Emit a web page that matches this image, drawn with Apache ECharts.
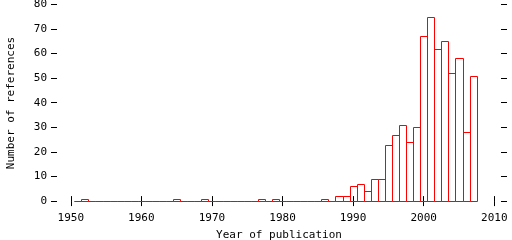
<!DOCTYPE html>
<html>
<head>
<meta charset="utf-8">
<script src="https://cdn.jsdelivr.net/npm/echarts@6/dist/echarts.min.js"></script>
<style>
html,body{margin:0;padding:0;background:#fff;}
#chart{width:512px;height:240px;}
</style>
</head>
<body>
<div id="chart"></div>
<script>
const years = [1951,1952,1953,1954,1955,1956,1957,1958,1959,1960,
  1961,1962,1963,1964,1965,1966,1967,1968,1969,1970,
  1971,1972,1973,1974,1975,1976,1977,1978,1979,1980,
  1981,1982,1983,1984,1985,1986,1987,1988,1989,1990,
  1991,1992,1993,1994,1995,1996,1997,1998,1999,2000,
  2001,2002,2003,2004,2005,2006,2007];
const counts = [0,1,0,0,0,0,0,0,0,0,
  0,0,0,0,1,0,0,0,1,0,
  0,0,0,0,0,0,1,0,1,0,
  0,0,0,0,0,1,0,2,2,6,
  7,4,9,9,23,27,31,24,30,67,
  75,62,65,52,58,28,51];
const xTicks = [1950,1960,1970,1980,1990,2000,2010];
const yTicks = [0,10,20,30,40,50,60,70,80];
const xTitle = 'Year of publication';
const yTitle = 'Number of references';

const FONT = 'DejaVu Sans Mono';
const chart = echarts.init(document.getElementById('chart'), null, {renderer:'canvas'});
const tickStyle = {show:true, inside:true, length:5, lineStyle:{color:'#000', width:1}};
const data = years.map((y,i)=>[y, counts[i]]);
const plain = v => String(Math.round(v));

chart.setOption({
  animation:false,
  backgroundColor:'#fff',
  grid:{left:51, right:5, top:0, bottom:34, containLabel:false, outerBoundsMode:'none'},
  xAxis:[{
    type:'value', min:1947.2, max:2011.8, position:'bottom',
    axisLine:{show:false}, splitLine:{show:false},
    axisTick:Object.assign({}, tickStyle, {customValues:xTicks}),
    axisLabel:{customValues:xTicks, formatter:plain, margin:7, color:'#000', fontFamily:FONT, fontSize:11},
    name:xTitle, nameLocation:'middle', nameGap:24,
    nameTextStyle:{color:'#000', fontFamily:FONT, fontSize:11}
  },{
    type:'value', min:1947.2, max:2011.8, position:'top',
    axisLine:{show:false}, splitLine:{show:false},
    axisTick:Object.assign({}, tickStyle, {customValues:xTicks}),
    axisLabel:{show:false}
  }],
  yAxis:[{
    type:'value', min:-2, max:81.75, position:'left',
    axisLine:{show:false}, splitLine:{show:false},
    axisTick:Object.assign({}, tickStyle, {length:6, customValues:yTicks}),
    axisLabel:{customValues:yTicks, formatter:plain, margin:4, color:'#000', fontFamily:FONT, fontSize:11},
    name:yTitle, nameLocation:'middle', nameGap:34, nameRotate:90,
    nameTextStyle:{color:'#000', fontFamily:FONT, fontSize:11}
  },{
    type:'value', min:-2, max:81.75, position:'right',
    axisLine:{show:false}, splitLine:{show:false},
    axisTick:Object.assign({}, tickStyle, {length:6, customValues:yTicks}),
    axisLabel:{show:false}
  }],
  series:[{
    type:'custom',
    xAxisIndex:0, yAxisIndex:0,
    data:data,
    renderItem:function(params, api){
      const yr = api.value(0), v = api.value(1);
      const p0 = api.coord([yr-0.5, 0]);
      const p1 = api.coord([yr+0.5, v]);
      const x0 = Math.round(p0[0])+0.5, x1 = Math.round(p1[0])+0.5;
      const yb = Math.round(p0[1])+0.5, yt = Math.round(p1[1])+0.5;
      return {
        type:'rect',
        shape:{x:x0, y:yt, width:x1-x0, height:yb-yt},
        style:{fill:null, stroke:'#ff0000', lineWidth:1}
      };
    }
  }]
});
</script>
</body>
</html>
